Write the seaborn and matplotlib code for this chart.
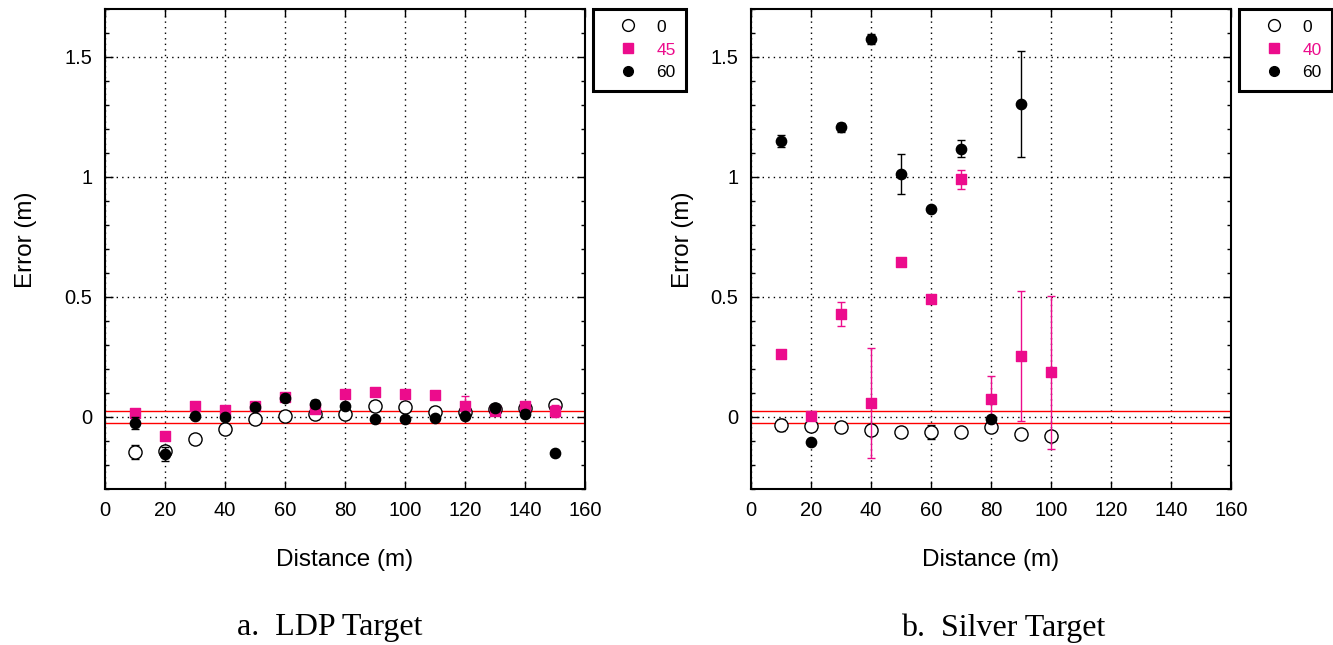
import numpy as np
import pandas as pd
import matplotlib
matplotlib.use('Agg')
import matplotlib.pyplot as plt
from matplotlib.ticker import MultipleLocator, FuncFormatter
from matplotlib.lines import Line2D
import seaborn as sns

sns.set_style('ticks')
plt.rcParams['font.family'] = ['Liberation Sans', 'DejaVu Sans']
plt.rcParams['text.color'] = 'black'
plt.rcParams['axes.labelcolor'] = 'black'

PINK = '#ec0c8c'

# ---- panel a: LDP target ----
ldp_dist = [10, 20, 30, 40, 50, 60, 70, 80, 90, 100, 110, 120, 130, 140, 150]
ldp_0 = [-0.145, -0.142, -0.093, -0.049, -0.010, 0.006, 0.011, 0.013, 0.047, 0.043, 0.019, 0.021, 0.032, 0.036, 0.050]
ldp_0_err = [0.03, 0.02, 0.02, 0.02, 0.02, 0.02, 0.02, 0.02, 0.02, 0.02, 0.02, 0.02, 0.02, 0.02, 0.02]
ldp_45 = [0.015, -0.079, 0.047, 0.029, 0.047, 0.082, 0.033, 0.096, 0.103, 0.096, 0.093, 0.046, 0.025, 0.047, 0.025]
ldp_45_err = [0.02, 0.005, 0.005, 0.005, 0.005, 0.005, 0.01, 0.01, 0.01, 0.005, 0.005, 0.042, 0.01, 0.01, 0.025]
ldp_60 = [-0.024, -0.154, 0.004, 0.000, 0.043, 0.080, 0.054, 0.046, -0.007, -0.010, -0.006, 0.006, 0.036, 0.013, -0.149]
ldp_60_err = [0.024, 0.028, 0.005, 0.005, 0.005, 0.01, 0.015, 0.01, 0.005, 0.01, 0.005, 0.005, 0.01, 0.015, 0.005]

# ---- panel b: Silver target ----
sil_dist = [10, 20, 30, 40, 50, 60, 70, 80, 90, 100]
sil_0 = [-0.035, -0.037, -0.040, -0.054, -0.062, -0.062, -0.064, -0.040, -0.072, -0.078]
sil_0_err = [0.025, 0.02, 0.02, 0.02, 0.01, 0.03, 0.01, 0.02, 0.01, 0.015]
sil_40 = [0.261, 0.005, 0.428, 0.058, 0.644, 0.492, 0.990, 0.074, 0.254, 0.186]
sil_40_err = [0.01, 0.01, 0.05, 0.228, 0.005, 0.005, 0.04, 0.097, 0.27, 0.318]
sil_60_dist = [10, 20, 30, 40, 50, 60, 70, 80, 90]
sil_60 = [1.150, -0.104, 1.207, 1.576, 1.014, 0.867, 1.118, -0.010, 1.305]
sil_60_err = [0.024, 0.005, 0.02, 0.02, 0.083, 0.01, 0.036, 0.005, 0.22]

red_band = [0.025, -0.025]

fig = plt.figure(figsize=(13.33, 6.45), dpi=100)
ax_a = fig.add_axes([105 / 1333, 156 / 645, 480 / 1333, 480 / 645])
ax_b = fig.add_axes([751 / 1333, 156 / 645, 480 / 1333, 480 / 645])


def draw_series(ax, x, y, err, marker, face, edge, size, ecolor, zorder):
    df = pd.DataFrame({'x': x, 'y': y})
    ax.errorbar(x, y, yerr=err, fmt='none', ecolor=ecolor, elinewidth=1,
                capsize=3, capthick=1, zorder=zorder - 0.5)
    sns.scatterplot(data=df, x='x', y='y', ax=ax, marker=marker, s=size,
                    color=face, edgecolor=edge, linewidth=1, zorder=zorder,
                    legend=False)


def style_axes(ax, mid_label, caption, cx, ylab_x):
    ax.set_xlim(0, 160)
    ax.set_ylim(-0.3, 1.7)
    ax.xaxis.set_major_locator(MultipleLocator(20))
    ax.yaxis.set_major_locator(MultipleLocator(0.5))
    ax.yaxis.set_minor_locator(MultipleLocator(0.1))
    ax.yaxis.set_major_formatter(FuncFormatter(lambda v, p: '%g' % v))
    ax.tick_params(which='both', direction='in', top=True, right=True,
                   labelsize=14.5, colors='black')
    ax.tick_params(which='major', length=6, width=1, pad=9)
    ax.tick_params(which='minor', length=3, width=1)
    ax.grid(True, which='major', color='black', linestyle=(0, (1, 3)), linewidth=1)
    ax.set_axisbelow(True)
    for sp in ax.spines.values():
        sp.set_linewidth(1.5)
        sp.set_color('black')
    for yv in red_band:
        ax.axhline(yv, color='red', linewidth=1, zorder=1)
    ax.set_xlabel('Distance (m)', fontsize=17.5)
    ax.set_ylabel('Error (m)', fontsize=17.5)
    ax.xaxis.set_label_coords(0.5, -0.148)
    ax.xaxis.label.set_va('center')
    ax.yaxis.set_label_coords(ylab_x, 0.52)
    ax.yaxis.label.set_va('center')
    fig.text(cx / 1333, 1 - 628 / 645, caption, ha='center', va='center',
             fontsize=23, family='Liberation Serif', color='black')

    handles = [
        Line2D([], [], linestyle='none', marker='o', markersize=8.5,
               markerfacecolor='white', markeredgecolor='black', markeredgewidth=1),
        Line2D([], [], linestyle='none', marker='s', markersize=7,
               markerfacecolor=PINK, markeredgecolor=PINK),
        Line2D([], [], linestyle='none', marker='o', markersize=7,
               markerfacecolor='black', markeredgecolor='black'),
    ]
    leg = ax.legend(handles, ['0', mid_label, '60'], loc='upper left',
                    bbox_to_anchor=(1.017, 1.0), frameon=True, fancybox=False,
                    framealpha=1, edgecolor='black', fontsize=12.5,
                    handlelength=2.8, handletextpad=0.25, borderpad=0.6,
                    labelspacing=0.45, borderaxespad=0)
    leg.get_frame().set_linewidth(2.2)
    leg.get_texts()[1].set_color(PINK)


# panel a
draw_series(ax_a, ldp_dist, ldp_0, ldp_0_err, 'o', 'white', 'black', 90, 'black', 3)
draw_series(ax_a, ldp_dist, ldp_45, ldp_45_err, 's', PINK, PINK, 55, PINK, 4)
draw_series(ax_a, ldp_dist, ldp_60, ldp_60_err, 'o', 'black', 'black', 55, 'black', 5)
style_axes(ax_a, '45', 'a.  LDP Target', 330, -0.165)

# panel b
draw_series(ax_b, sil_dist, sil_0, sil_0_err, 'o', 'white', 'black', 90, 'black', 3)
draw_series(ax_b, sil_dist, sil_40, sil_40_err, 's', PINK, PINK, 55, PINK, 4)
draw_series(ax_b, sil_60_dist, sil_60, sil_60_err, 'o', 'black', 'black', 55, 'black', 5)
style_axes(ax_b, '40', 'b.  Silver Target', 1003, -0.142)

fig.savefig('out.png', dpi=100)
